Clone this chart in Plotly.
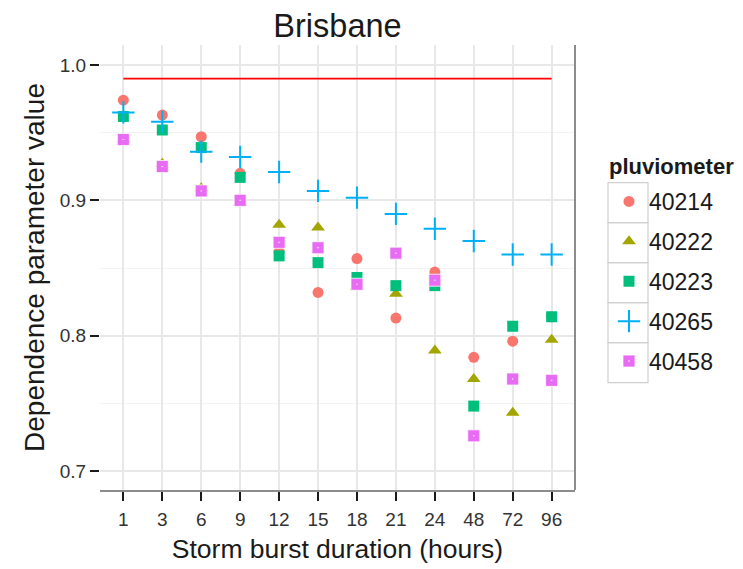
import plotly.graph_objects as go

durations = ["1", "3", "6", "9", "12", "15", "18", "21", "24", "48", "72", "96"]
pluviometers = ["40214", "40222", "40223", "40265", "40458"]

v_40214 = [0.974, 0.963, 0.947, 0.920, 0.862, 0.832, 0.857, 0.813, 0.847, 0.784, 0.796, 0.814]
v_40222 = [0.945, 0.927, 0.909, 0.898, 0.882, 0.880, 0.836, 0.831, 0.789, 0.768, 0.743, 0.797]
v_40223 = [0.962, 0.952, 0.939, 0.917, 0.859, 0.854, 0.843, 0.837, 0.837, 0.748, 0.807, 0.814]
v_40265 = [0.965, 0.958, 0.936, 0.932, 0.921, 0.907, 0.902, 0.890, 0.879, 0.870, 0.860, 0.860]
v_40458 = [0.945, 0.925, 0.907, 0.900, 0.869, 0.865, 0.838, 0.861, 0.841, 0.726, 0.768, 0.767]

threshold = 0.99
title = "Brisbane"
x_title = "Storm burst duration (hours)"
y_title = "Dependence parameter value"
legend_title = "pluviometer"

series = [v_40214, v_40222, v_40223, v_40265, v_40458]
colors = ["#F8766D", "#A3A500", "#00BF7D", "#00B0F6", "#E76BF3"]
symbols = ["circle", "triangle-up", "square", "cross-thin-open", "square-dot"]
sizes = [11, 12, 11, 16, 12]
line_w = [0, 0, 0, 2, 1]
line_c = ["#F8766D", "#A3A500", "#00BF7D", "#00B0F6", "rgba(255,255,255,0.75)"]

fig = go.Figure()

fig.add_trace(go.Scatter(
    x=[durations[0], durations[-1]], y=[threshold, threshold],
    mode="lines", line=dict(color="#FF0000", width=1.7),
    showlegend=False, hoverinfo="skip"))

for name, vals, c, s, sz, lw, lc in zip(pluviometers, series, colors, symbols, sizes, line_w, line_c):
    fig.add_trace(go.Scatter(
        x=durations, y=vals, mode="markers", name=name, legendgroup=name,
        marker=dict(color=c, symbol=s, size=sz, line=dict(color=lc, width=lw))))

font_fam = "Liberation Sans, Arial, sans-serif"

# page body has an 8px margin: work in page pixels, convert to figure pixels
OFF = 8
FW, FH = 743 - OFF, 569 - OFF
L, R, T, B = 100, 575, 45, 490          # plot area in page pixels
pw, ph = R - L, B - T

def px_x(x):
    return (x - L) / pw

def px_y(y):
    return (B - y) / ph

shapes = []
for i in range(5):
    y0 = 182.7 + 40 * i
    shapes.append(dict(type="rect", xref="paper", yref="paper",
                       x0=px_x(608), x1=px_x(648), y0=px_y(y0 + 40), y1=px_y(y0),
                       line=dict(color="#D0D0D0", width=1.2), fillcolor="rgba(0,0,0,0)",
                       layer="below"))
shapes.append(dict(type="line", xref="paper", yref="paper", x0=1, x1=1, y0=0, y1=1,
                   line=dict(color="#8C8C8C", width=2)))

annotations = [dict(text="<b>" + legend_title + "</b>", xref="paper", yref="paper",
                    x=px_x(607), y=px_y(166), xanchor="left", yanchor="middle",
                    showarrow=False, font=dict(size=22, color="#1A1A1A"))]

fig.update_layout(
    width=FW, height=FH,
    margin=dict(l=L - OFF, r=FW - (R - OFF), t=T - OFF, b=FH - (B - OFF), autoexpand=False),
    paper_bgcolor="white", plot_bgcolor="white",
    font=dict(family=font_fam, color="#1A1A1A"),
    title=dict(text=title, x=((L + R) / 2 - OFF) / FW, xanchor="center",
               y=1 - (26 - OFF) / FH, yanchor="middle",
               font=dict(size=32.5, color="#1A1A1A")),
    shapes=shapes,
    annotations=annotations,
    showlegend=True,
    legend=dict(
        x=px_x(609), xanchor="left", y=px_y(180), yanchor="top",
        font=dict(size=23, color="#1A1A1A"),
        bgcolor="rgba(0,0,0,0)", tracegroupgap=7, itemsizing="trace",
    ),
)

fig.update_xaxes(
    type="category", categoryorder="array", categoryarray=durations,
    range=[-0.6, len(durations) - 0.4],
    showgrid=True, gridcolor="#E8E8E8", gridwidth=1.6,
    showline=True, linecolor="#8C8C8C", linewidth=2,
    ticks="outside", ticklen=9, tickcolor="#1A1A1A", tickwidth=1.5,
    ticklabelstandoff=2,
    tickfont=dict(size=19, color="#333333"),
    title=dict(text=x_title, font=dict(size=26.5, color="#1A1A1A"), standoff=11),
    zeroline=False,
)
fig.update_yaxes(
    range=[0.686, 1.0148],
    tickvals=[0.7, 0.8, 0.9, 1.0], ticktext=["0.7", "0.8", "0.9", "1.0"],
    showgrid=True, gridcolor="#E8E8E8", gridwidth=1.6,
    minor=dict(tickvals=[0.75, 0.85, 0.95], showgrid=True, gridcolor="#F3F3F3", gridwidth=1),
    showline=False,
    ticks="outside", ticklen=9, tickcolor="#1A1A1A", tickwidth=1.5,
    tickfont=dict(size=19, color="#333333"),
    title=dict(text=y_title, font=dict(size=28, color="#1A1A1A"), standoff=6),
    zeroline=False,
)

fig.write_html("out.html")
